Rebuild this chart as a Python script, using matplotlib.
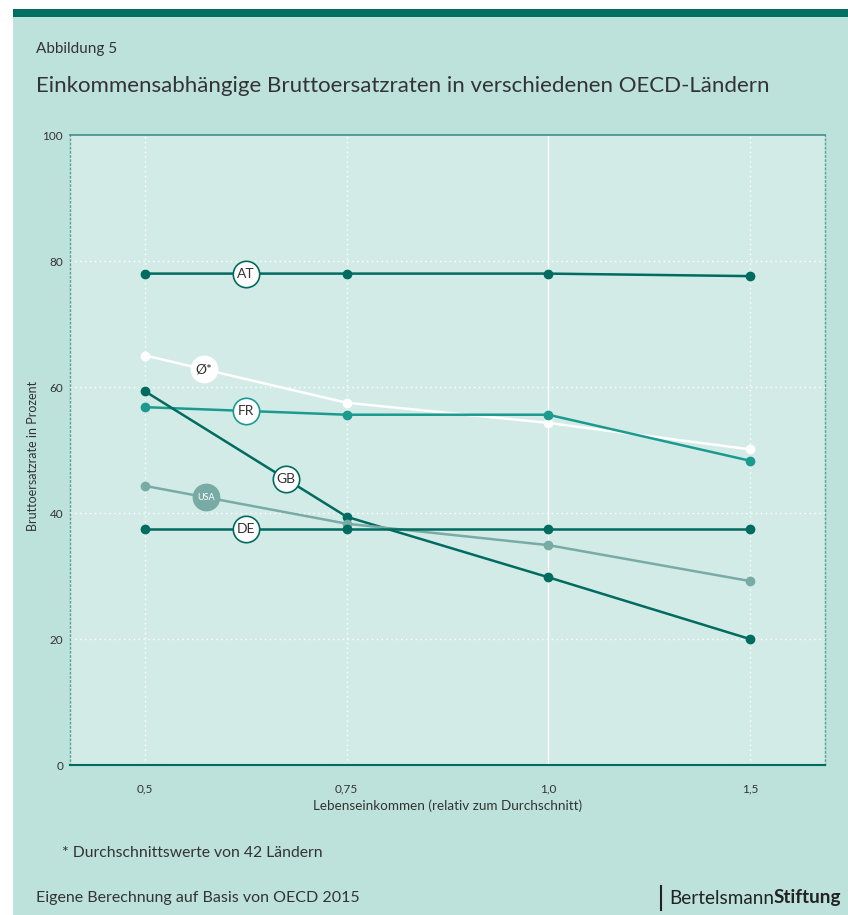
import numpy as np
import matplotlib.pyplot as plt
from matplotlib.patches import Rectangle

plt.rcParams['font.family'] = ['Lato', 'DejaVu Sans']

# Lebenseinkommen relativ zum Durchschnitt
einkommen = ["0,5", "0,75", "1,0", "1,5"]

# Bruttoersatzraten in Prozent
at = [78.0, 78.0, 78.0, 77.6]
avg = [65.0, 57.5, 54.3, 50.1]
fr = [56.8, 55.6, 55.6, 48.3]
gb = [59.3, 39.4, 29.8, 20.0]
usa = [44.3, 38.3, 34.9, 29.2]
de = [37.5, 37.5, 37.5, 37.5]

BG = "#bde2dc"
PLOT_BG = "#d3ebe6"
DARK = "#006b60"
MID = "#1b9b90"
GREY = "#79aba6"
TEXT = "#333333"

series = [
    # name, values, colour, label position (fractional x index), label style
    ("AT", at, DARK, 0.5, "ring"),
    ("Ø*", avg, "white", 0.29, "white"),
    ("FR", fr, MID, 0.5, "ring"),
    ("GB", gb, DARK, 0.7, "ring"),
    ("USA", usa, GREY, 0.3, "filled"),
    ("DE", de, DARK, 0.5, "ring"),
]

fig = plt.figure(figsize=(8.48, 9.15), dpi=100)
W, H = 848, 915

# background panel and top bar
fig.patches.append(Rectangle((13 / W, 0), 1 - 13 / W, 1 - 9 / H, transform=fig.transFigure,
                             facecolor=BG, edgecolor="none", zorder=-10))
fig.patches.append(Rectangle((13 / W, 1 - 17 / H), 1 - 13 / W, 8 / H, transform=fig.transFigure,
                             facecolor="#006f63", edgecolor="none", zorder=-9))

ax = fig.add_axes([70 / W, 150 / H, 755 / W, 630 / H])
ax.set_facecolor(PLOT_BG)

x = np.arange(len(einkommen))
ax.set_xlim(-0.373, 3.373)
ax.set_ylim(0, 100)

# grid
for yv in [20, 40, 60, 80]:
    ax.axhline(yv, color="white", lw=1, ls=(0, (1, 2.5)), zorder=1)
for xi in x:
    if einkommen[xi] == "1,0":
        ax.axvline(xi, color="white", lw=1, zorder=1)
    else:
        ax.axvline(xi, color="white", lw=1, ls=(0, (1, 2.5)), zorder=1)

for name, vals, col, pos, style in series:
    ax.plot(x, vals, color=col, lw=1.8, marker="o", ms=6, zorder=3)
    yl = np.interp(pos, x, vals)
    if style == "ring":
        ax.plot(pos, yl, marker="o", ms=19, mfc="white", mec=col, mew=1.2, zorder=5)
        ax.text(pos, yl, name, ha="center", va="center", fontsize=10, color=TEXT, zorder=6)
    elif style == "white":
        ax.plot(pos, yl, marker="o", ms=19, mfc="white", mec="white", zorder=5)
        ax.text(pos, yl, name, ha="center", va="center", fontsize=10, color=TEXT, zorder=6)
    else:
        ax.plot(pos, yl, marker="o", ms=19, mfc=col, mec=col, zorder=5)
        ax.text(pos, yl, name, ha="center", va="center", fontsize=6.5, color="white", zorder=6)

ax.set_xticks(x)
ax.set_xticklabels(einkommen)
ax.set_yticks([0, 20, 40, 60, 80, 100])
ax.tick_params(length=0, labelsize=8.5, colors=TEXT, pad=5)
ax.tick_params(axis="x", pad=13)

ax.spines["top"].set_color("#3f9088")
ax.spines["top"].set_linewidth(1.2)
ax.spines["bottom"].set_color(DARK)
ax.spines["bottom"].set_linewidth(1.5)
for s in ["left", "right"]:
    ax.spines[s].set_color("#5a9f98")
    ax.spines[s].set_linestyle((0, (1, 2)))
    ax.spines[s].set_linewidth(1)

ax.set_xlabel("Lebenseinkommen (relativ zum Durchschnitt)", fontsize=9.7, color=TEXT, labelpad=4)
fig.text(33 / W, 1 - 456 / H, "Bruttoersatzrate in Prozent", rotation=90, ha="center", va="center",
         fontsize=9, color=TEXT)

fig.text(36 / W, 1 - 49 / H, "Abbildung 5", fontsize=11, color=TEXT, va="center")
fig.text(36 / W, 1 - 86 / H, "Einkommensabhängige Bruttoersatzraten in verschiedenen OECD-Ländern",
         fontsize=16, color=TEXT, va="center")
fig.text(62 / W, 1 - 853 / H, "* Durchschnittswerte von 42 Ländern", fontsize=11.3, color=TEXT, va="center")
fig.text(36 / W, 1 - 898 / H, "Eigene Berechnung auf Basis von OECD 2015", fontsize=11.5, color=TEXT,
         va="center")

# logo
fig.add_artist(plt.Line2D([661 / W, 661 / W], [1 - 910 / H, 1 - 886 / H], transform=fig.transFigure,
                          color="#222222", lw=1.5))
t1 = fig.text(669 / W, 1 - 898 / H, "Bertelsmann", fontsize=13.6, color="#222222", va="center")
fig.canvas.draw()
bb = t1.get_window_extent()
fig.text(bb.x1 / W, 1 - 898 / H, "Stiftung", fontsize=13.6, color="#222222", va="center",
         fontweight="bold")

fig.savefig("out.png", dpi=100)
